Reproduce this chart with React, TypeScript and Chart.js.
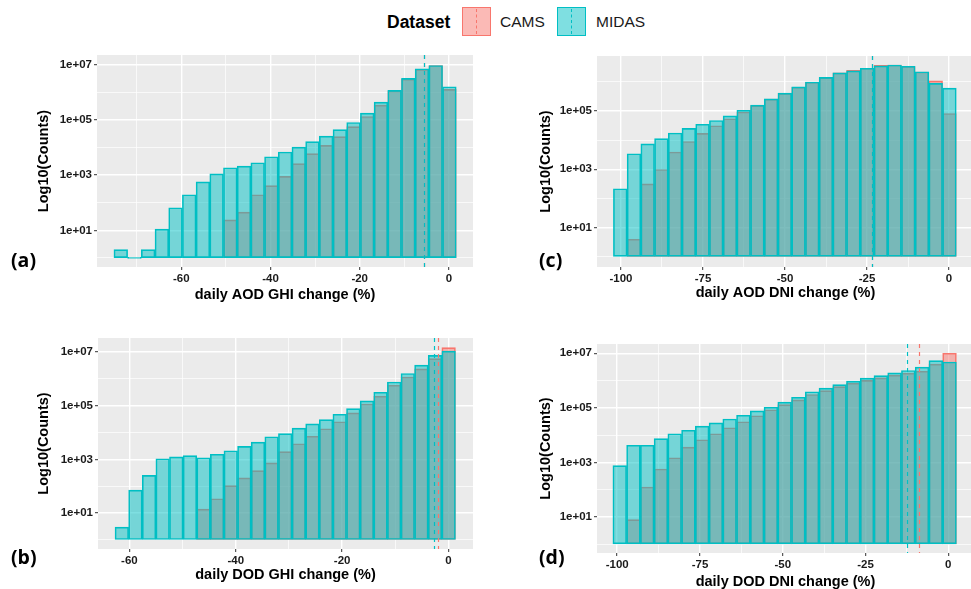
import { useEffect, useRef } from 'react';
import { Chart, registerables } from 'chart.js';

Chart.register(...registerables);

// ---------------- data ----------------
const aBins = [-73.57, -70.5, -67.43, -64.36, -61.29, -58.22, -55.15, -52.08, -49.01, -45.94, -42.87, -39.8, -36.73, -33.66, -30.59, -27.52, -24.45, -21.38, -18.31, -15.24, -12.17, -9.1, -6.03, -2.96, 0.11];
const aMidas = [2, 1, 2, 11, 66, 195, 575, 1120, 1860, 2140, 2820, 4680, 6920, 10500, 16600, 26300, 44700, 81300, 178000, 447000, 1200000, 3240000, 7240000, 9550000, 1620000];
const aCams = [null, null, null, null, null, null, null, null, 24, 46, 195, 417, 912, 2630, 6030, 12000, 25100, 57500, 135000, 347000, 1150000, 3020000, 6920000, 9500000, 1290000];
const aMeans = [-5.5, -5.6]; // [CAMS, MIDAS]

const bBins = [-61.42, -58.86, -56.3, -53.74, -51.18, -48.62, -46.06, -43.5, -40.94, -38.38, -35.82, -33.26, -30.7, -28.14, -25.58, -23.02, -20.46, -17.9, -15.34, -12.78, -10.22, -7.66, -5.1, -2.54, 0.02];
const bMidas = [3, 71, 251, 1050, 1230, 1380, 1150, 1550, 2090, 3020, 4370, 6920, 9120, 14500, 20900, 30200, 47900, 77600, 151000, 316000, 759000, 1580000, 3240000, 7410000, 10700000];
const bCams = [null, null, null, null, null, null, 14, 34, 105, 204, 380, 741, 1950, 3800, 7240, 13800, 25100, 53700, 115000, 224000, 575000, 1170000, 2340000, 5620000, 14500000];
const bMeans = [-2.0, -2.8];

const cBins = [-100.21, -96.03, -91.85, -87.67, -83.49, -79.31, -75.13, -70.95, -66.77, -62.59, -58.41, -54.23, -50.05, -45.87, -41.69, -37.51, -33.33, -29.15, -24.97, -20.79, -16.61, -12.43, -8.25, -4.07, 0.11];
const cMidas = [214, 3390, 7410, 11200, 17400, 25100, 34700, 46800, 67600, 105000, 158000, 257000, 407000, 661000, 977000, 1410000, 2000000, 2340000, 2880000, 3470000, 3720000, 3390000, 2190000, 871000, 603000];
const cCams = [null, 4, 316, 977, 3890, 8910, 17000, 30900, 53700, 91200, 151000, 251000, 398000, 646000, 955000, 1380000, 2000000, 2450000, 2880000, 3630000, 3720000, 3310000, 2140000, 1070000, 81300];
const cMeans = [-23.4, -23.4];

const dBins = [-99.23, -95.08, -90.93, -86.78, -82.63, -78.48, -74.33, -70.18, -66.03, -61.88, -57.73, -53.58, -49.43, -45.28, -41.13, -36.98, -32.83, -28.68, -24.53, -20.38, -16.23, -12.08, -7.93, -3.78, 0.37];
const dMidas = [759, 4270, 4270, 7410, 11200, 15100, 21400, 28200, 38900, 53700, 77600, 105000, 162000, 245000, 389000, 525000, 708000, 955000, 1230000, 1510000, 1910000, 2340000, 3090000, 5370000, 4790000];
const dCams = [null, 8, 126, 575, 1480, 3630, 6760, 11200, 18600, 30900, 51300, 85100, 132000, 195000, 309000, 427000, 603000, 794000, 1020000, 1260000, 1580000, 1860000, 2190000, 3980000, 10000000];
const dMeans = [-8.9, -12.5];

const ghiXMajor = [-60, -40, -20, 0];
const ghiXMinorA = [-70, -50, -30, -10];
const ghiXMinorB = [-50, -30, -10];
const dniXMajor = [-100, -75, -50, -25, 0];
const dniXMinor = [-87.5, -62.5, -37.5, -12.5];
const yMajor7 = [1e1, 1e3, 1e5, 1e7];
const yMajor5 = [1e1, 1e3, 1e5];
const yMinor = [1e0, 1e2, 1e4, 1e6];

const datasetNames = ['CAMS', 'MIDAS'];
// -------------------------------------

const FONT = "'Liberation Sans', Arial, sans-serif";
const CAMS_FILL = 'rgba(248,118,109,0.5)';
const CAMS_LINE = '#F8766D';
const MIDAS_FILL = 'rgba(0,191,196,0.5)';
const MIDAS_LINE = '#00BFC4';

type Box = { left: number; top: number; w: number; h: number };
type Area = { l: number; r: number; t: number; b: number };

type PanelProps = {
  bins: number[];
  cams: (number | null)[];
  midas: number[];
  means: number[];
  xTitle: string;
  xMin: number;
  xMax: number;
  yMinExp: number;
  yMaxExp: number;
  xMajor: number[];
  xMinor: number[];
  yMajor: number[];
  box: Box;
  area: Area;
  yTitleX: number;
  xTitleY: number;
};

const fmtExp = (v: number) => {
  const e = Math.round(Math.log10(v));
  return '1e+' + String(e).padStart(2, '0');
};

function Panel(p: PanelProps) {
  const ref = useRef<HTMLCanvasElement>(null);
  useEffect(() => {
    const canvas = ref.current;
    if (!canvas) return;
    const { box, area } = p;
    const xAxisH = 40;
    const padTop = area.t - box.top;
    const padRight = box.left + box.w - area.r;
    const yW = area.l - box.left;
    const padBottom = box.top + box.h - area.b - xAxisH;
    const titleSize = 14.5;
    const titleLH = titleSize * 1.2;
    const xTitlePB = area.b + xAxisH - titleLH / 2 - p.xTitleY;
    const yTitlePT = p.yTitleX - box.left - titleLH / 2;
    const tickSize = 11.5;

    const isMajorX = (v: number) => p.xMajor.includes(v);
    const isMajorY = (v: number) => p.yMajor.some((m) => Math.abs(Math.log10(m) - Math.log10(v)) < 1e-6);

    const bgPlugin = {
      id: 'panelBg',
      beforeDraw(chart: any) {
        const { ctx, chartArea: a } = chart;
        ctx.save();
        ctx.fillStyle = '#EBEBEB';
        ctx.fillRect(a.left, a.top, a.right - a.left, a.bottom - a.top);
        ctx.restore();
      },
    };
    const vlinePlugin = {
      id: 'meanLines',
      afterDatasetsDraw(chart: any) {
        const { ctx, chartArea: a } = chart;
        const xs = chart.scales.x;
        ctx.save();
        ctx.beginPath();
        ctx.rect(a.left, a.top, a.right - a.left, a.bottom - a.top);
        ctx.clip();
        ctx.setLineDash([4, 4]);
        ctx.lineWidth = 1.2;
        const cols = [CAMS_LINE, MIDAS_LINE];
        p.means.forEach((v, i) => {
          const px = Math.round(xs.getPixelForValue(v)) + 0.5;
          ctx.strokeStyle = cols[i];
          ctx.beginPath();
          ctx.moveTo(px, a.top);
          ctx.lineTo(px, a.bottom);
          ctx.stroke();
        });
        ctx.restore();
      },
    };

    const camsData = p.bins
      .map((x, i) => ({ x, y: p.cams[i] }))
      .filter((d) => d.y !== null);
    const midasData = p.bins.map((x, i) => ({ x, y: p.midas[i] }));

    const common = {
      borderWidth: 1,
      borderSkipped: false,
      grouped: false,
      base: 1,
      minBarLength: 1,
      categoryPercentage: 1,
      barPercentage: 1,
    };

    const chart = new Chart(canvas, {
      type: 'bar',
      data: {
        datasets: [
          {
            label: datasetNames[0],
            data: camsData as any,
            backgroundColor: CAMS_FILL,
            borderColor: CAMS_LINE,
            order: 1,
            ...common,
          } as any,
          {
            label: datasetNames[1],
            data: midasData as any,
            backgroundColor: MIDAS_FILL,
            borderColor: MIDAS_LINE,
            order: 0,
            ...common,
          } as any,
        ],
      },
      options: {
        animation: false,
        responsive: false,
        maintainAspectRatio: false,
        layout: { padding: { left: 0, top: padTop, right: padRight, bottom: padBottom } },
        plugins: { legend: { display: false }, tooltip: { enabled: false } },
        scales: {
          x: {
            type: 'linear',
            min: p.xMin,
            max: p.xMax,
            bounds: 'data',
            offset: false,
            grid: {
              offset: false,
              color: '#FFFFFF',
              lineWidth: (ctx: any) => (ctx.tick && isMajorX(ctx.tick.value) ? 1.4 : 0.7),
              drawTicks: true,
              tickLength: 3,
              tickWidth: 1,
              tickColor: (ctx: any) => (ctx.tick && isMajorX(ctx.tick.value) ? '#333333' : 'rgba(0,0,0,0)'),
            },
            border: { display: false },
            ticks: {
              autoSkip: false,
              maxRotation: 0,
              padding: 2,
              color: '#1a1a1a',
              font: { family: FONT, size: tickSize, weight: 'bold' },
              callback: (v: any) => (isMajorX(Number(v)) ? String(v) : ''),
            },
            afterBuildTicks: (s: any) => {
              s.ticks = [...p.xMajor, ...p.xMinor].sort((a, b) => a - b).map((v) => ({ value: v }));
            },
            afterFit: (s: any) => {
              s.height = xAxisH;
            },
            title: {
              display: true,
              text: p.xTitle,
              color: '#000000',
              font: { family: FONT, size: titleSize, weight: 'bold' },
              padding: { top: 0, bottom: xTitlePB },
            },
          } as any,
          y: {
            type: 'logarithmic',
            min: Math.pow(10, p.yMinExp),
            max: Math.pow(10, p.yMaxExp),
            bounds: 'data',
            grid: {
              color: '#FFFFFF',
              lineWidth: (ctx: any) => (ctx.tick && isMajorY(ctx.tick.value) ? 1.4 : 0.7),
              drawTicks: true,
              tickLength: 3,
              tickWidth: 1,
              tickColor: (ctx: any) => (ctx.tick && isMajorY(ctx.tick.value) ? '#333333' : 'rgba(0,0,0,0)'),
            },
            border: { display: false },
            ticks: {
              autoSkip: false,
              padding: 2,
              color: '#1a1a1a',
              font: { family: FONT, size: tickSize, weight: 'bold' },
              callback: (v: any) => (isMajorY(Number(v)) ? fmtExp(Number(v)) : ''),
            },
            afterBuildTicks: (s: any) => {
              s.ticks = [...p.yMajor, ...yMinor]
                .filter((v) => v >= s.min && v <= s.max)
                .sort((a, b) => a - b)
                .map((v) => ({ value: v }));
            },
            afterFit: (s: any) => {
              s.width = yW;
            },
            title: {
              display: true,
              text: 'Log10(Counts)',
              color: '#000000',
              font: { family: FONT, size: titleSize, weight: 'bold' },
              padding: { top: yTitlePT, bottom: 0 },
            },
          } as any,
        },
      },
      plugins: [bgPlugin, vlinePlugin],
    });
    return () => chart.destroy();
  }, []);

  return (
    <canvas
      ref={ref}
      width={p.box.w}
      height={p.box.h}
      style={{ position: 'absolute', left: p.box.left, top: p.box.top, width: p.box.w, height: p.box.h }}
    />
  );
}

function LegendKey({ left, fill, line }: { left: number; fill: string; line: string }) {
  return (
    <div
      style={{
        position: 'absolute',
        left,
        top: 7,
        width: 29,
        height: 29,
        boxSizing: 'border-box',
        border: `1.5px solid ${line}`,
        background: fill,
      }}
    >
      <div
        style={{
          position: 'absolute',
          left: 13,
          top: 1,
          bottom: 1,
          width: 0,
          borderLeft: `1px dashed ${line}`,
        }}
      />
    </div>
  );
}

const panelLabelStyle = (left: number, cy: number): any => ({
  position: 'absolute',
  left,
  top: cy - 13,
  height: 26,
  lineHeight: '26px',
  fontFamily: "'Open Sans', 'Noto Sans', sans-serif",
  fontWeight: 700,
  fontSize: 19.5,
  color: '#000',
  whiteSpace: 'nowrap',
});

export default function App() {
  useEffect(() => {
    document.body.style.margin = '0';
  }, []);
  return (
    <div
      style={{
        position: 'fixed',
        left: 0,
        top: 0,
        width: 971,
        height: 589,
        overflow: 'hidden',
        background: '#FFFFFF',
      }}
    >
      {/* legend */}
      <div
        style={{
          position: 'absolute',
          left: 387,
          top: 10,
          lineHeight: '24px',
          fontFamily: FONT,
          fontWeight: 700,
          fontSize: 17.5,
          color: '#000',
        }}
      >
        Dataset
      </div>
      <LegendKey left={462} fill={CAMS_FILL} line={CAMS_LINE} />
      <div style={{ position: 'absolute', left: 500, top: 10, lineHeight: '24px', fontFamily: FONT, fontSize: 15.5, color: '#1a1a1a' }}>
        {datasetNames[0]}
      </div>
      <LegendKey left={557} fill={MIDAS_FILL} line={MIDAS_LINE} />
      <div style={{ position: 'absolute', left: 596, top: 10, lineHeight: '24px', fontFamily: FONT, fontSize: 15.5, color: '#1a1a1a' }}>
        {datasetNames[1]}
      </div>

      <Panel
        bins={aBins}
        cams={aCams}
        midas={aMidas}
        means={aMeans}
        xTitle="daily AOD GHI change (%)"
        xMin={-78.9}
        xMax={5.4}
        yMinExp={-0.33}
        yMaxExp={7.36}
        xMajor={ghiXMajor}
        xMinor={ghiXMinorA}
        yMajor={yMajor7}
        box={{ left: 0, top: 40, w: 480, h: 280 }}
        area={{ l: 97, r: 473, t: 55, b: 267 }}
        yTitleX={44}
        xTitleY={295}
      />
      <Panel
        bins={bBins}
        cams={bCams}
        midas={bMidas}
        means={bMeans}
        xTitle="daily DOD GHI change (%)"
        xMin={-65.9}
        xMax={4.6}
        yMinExp={-0.34}
        yMaxExp={7.52}
        xMajor={ghiXMajor}
        xMinor={ghiXMinorB}
        yMajor={yMajor7}
        box={{ left: 0, top: 320, w: 480, h: 280 }}
        area={{ l: 98, r: 473, t: 338, b: 549 }}
        yTitleX={44}
        xTitleY={575}
      />
      <Panel
        bins={cBins}
        cams={cCams}
        midas={cMidas}
        means={cMeans}
        xTitle="daily AOD DNI change (%)"
        xMin={-107.3}
        xMax={7.6}
        yMinExp={-0.35}
        yMaxExp={6.88}
        xMajor={dniXMajor}
        xMinor={dniXMinor}
        yMajor={yMajor5}
        box={{ left: 480, top: 40, w: 500, h: 280 }}
        area={{ l: 597, r: 974, t: 56, b: 267 }}
        yTitleX={546}
        xTitleY={293}
      />
      <Panel
        bins={dBins}
        cams={dCams}
        midas={dMidas}
        means={dMeans}
        xTitle="daily DOD DNI change (%)"
        xMin={-106.1}
        xMax={7.76}
        yMinExp={-0.32}
        yMaxExp={7.34}
        xMajor={dniXMajor}
        xMinor={dniXMinor}
        yMajor={yMajor7}
        box={{ left: 480, top: 320, w: 500, h: 280 }}
        area={{ l: 597, r: 974, t: 344, b: 553 }}
        yTitleX={546}
        xTitleY={582}
      />

      <div style={panelLabelStyle(11, 260)}>(a)</div>
      <div style={panelLabelStyle(11, 557)}>(b)</div>
      <div style={panelLabelStyle(539, 260)}>(c)</div>
      <div style={panelLabelStyle(539, 557)}>(d)</div>
    </div>
  );
}
